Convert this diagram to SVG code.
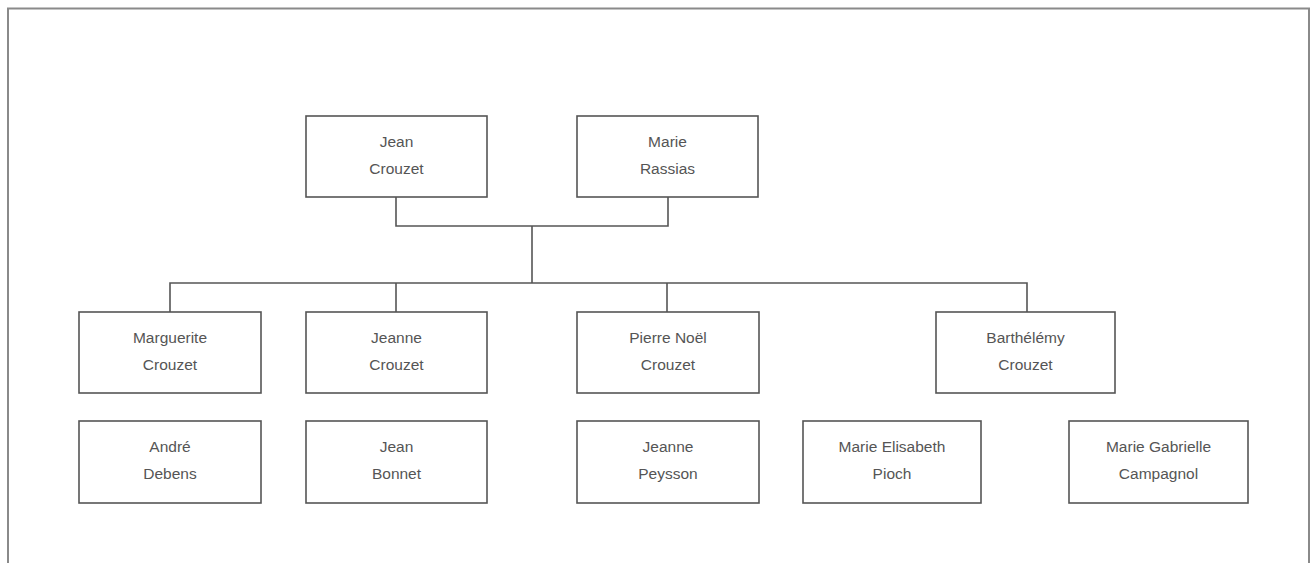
<svg xmlns="http://www.w3.org/2000/svg" width="1311" height="563" viewBox="0 0 1311 563">
<style>
.box{fill:#fff;stroke:#555;stroke-width:1.6}
.t{font-family:"Liberation Sans",Arial,sans-serif;font-size:15.5px;fill:#555;text-anchor:middle}
.c{fill:none;stroke:#555;stroke-width:1.6}
.frame{fill:none;stroke:#8a8a8a;stroke-width:2}
</style>
<rect width="1311" height="563" fill="#fff"/>
<path class="frame" d="M8,563 V8.5 H1309 V563"/>
<g id="connectors">
<path class="c" d="M396,197 V226 H668 V197"/>
<path class="c" d="M532,226 V283"/>
<path class="c" d="M170,312 V283 H1027 V312"/>
<path class="c" d="M396,283 V312"/>
<path class="c" d="M667,283 V312"/>
</g>
<g id="jean-crouzet"><rect class="box" x="306" y="116" width="181" height="81"/><text class="t" x="396.5" y="147">Jean</text><text class="t" x="396.5" y="174">Crouzet</text></g>
<g id="marie-rassias"><rect class="box" x="577" y="116" width="181" height="81"/><text class="t" x="667.5" y="147">Marie</text><text class="t" x="667.5" y="174">Rassias</text></g>
<g id="marguerite-crouzet"><rect class="box" x="79" y="312" width="182" height="81"/><text class="t" x="170" y="343">Marguerite</text><text class="t" x="170" y="370">Crouzet</text></g>
<g id="jeanne-crouzet"><rect class="box" x="306" y="312" width="181" height="81"/><text class="t" x="396.5" y="343">Jeanne</text><text class="t" x="396.5" y="370">Crouzet</text></g>
<g id="pierre-noel-crouzet"><rect class="box" x="577" y="312" width="182" height="81"/><text class="t" x="668" y="343">Pierre Noël</text><text class="t" x="668" y="370">Crouzet</text></g>
<g id="barthelemy-crouzet"><rect class="box" x="936" y="312" width="179" height="81"/><text class="t" x="1025.5" y="343">Barthélémy</text><text class="t" x="1025.5" y="370">Crouzet</text></g>
<g id="andre-debens"><rect class="box" x="79" y="421" width="182" height="82"/><text class="t" x="170" y="452">André</text><text class="t" x="170" y="479">Debens</text></g>
<g id="jean-bonnet"><rect class="box" x="306" y="421" width="181" height="82"/><text class="t" x="396.5" y="452">Jean</text><text class="t" x="396.5" y="479">Bonnet</text></g>
<g id="jeanne-peysson"><rect class="box" x="577" y="421" width="182" height="82"/><text class="t" x="668" y="452">Jeanne</text><text class="t" x="668" y="479">Peysson</text></g>
<g id="marie-elisabeth-pioch"><rect class="box" x="803" y="421" width="178" height="82"/><text class="t" x="892" y="452">Marie Elisabeth</text><text class="t" x="892" y="479">Pioch</text></g>
<g id="marie-gabrielle-campagnol"><rect class="box" x="1069" y="421" width="179" height="82"/><text class="t" x="1158.5" y="452">Marie Gabrielle</text><text class="t" x="1158.5" y="479">Campagnol</text></g>
</svg>
